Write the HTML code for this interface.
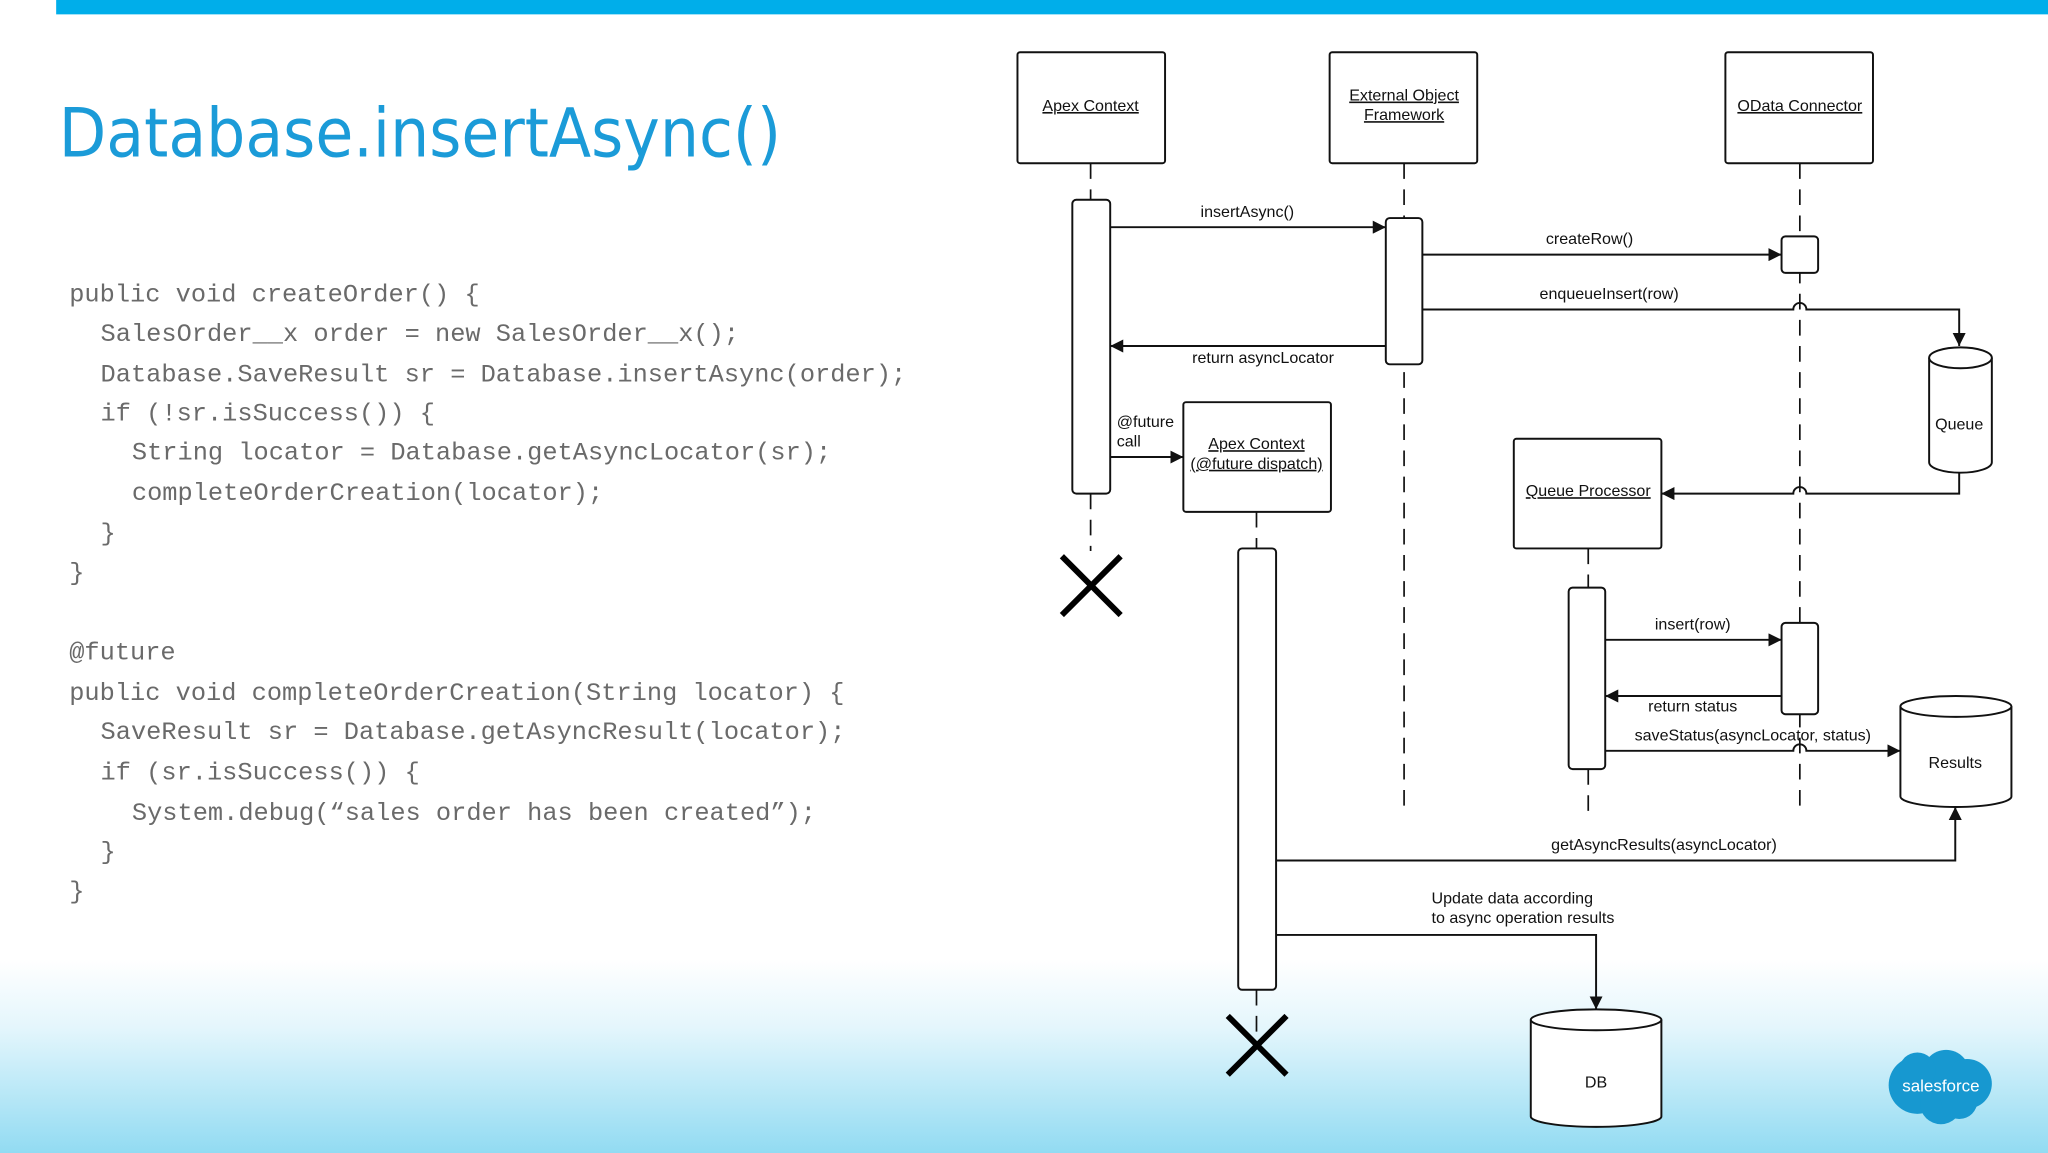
<!DOCTYPE html>
<html><head><meta charset="utf-8"><style>
html,body{margin:0;padding:0;background:#fff;}
svg{display:block;}
.t{font-family:"Liberation Sans",sans-serif;font-size:12.3px;fill:#111;}
.u{text-decoration:underline;}
.code{font-family:"Liberation Mono",monospace;font-size:19.4px;fill:#6a6a6a;}
</style></head><body>
<svg width="2048" height="1153" viewBox="0 0 1568 883" preserveAspectRatio="none" xmlns="http://www.w3.org/2000/svg">
<defs>
<linearGradient id="bg" x1="0" y1="0" x2="0" y2="1">
<stop offset="0" stop-color="#ffffff"/><stop offset="0.35" stop-color="#e4f6fc"/><stop offset="1" stop-color="#92dbf2"/>
</linearGradient>
<marker id="a" viewBox="0 0 10 10" refX="10" refY="5" markerWidth="10" markerHeight="10" markerUnits="userSpaceOnUse" orient="auto">
<path d="M0,0 L10,5 L0,10 z" fill="#111"/></marker>
</defs>
<rect x="0" y="0" width="1568" height="883" fill="#fff"/>
<rect x="0" y="735" width="1568" height="148" fill="url(#bg)"/>
<rect x="43" y="0" width="1525" height="11" fill="#00aeea"/>
<text x="45" y="120" font-family="'DejaVu Sans','Liberation Sans',sans-serif" font-size="52" fill="#1b9bd8" textLength="553" lengthAdjust="spacingAndGlyphs">Database.insertAsync()</text>
<g class="code">
<text x="53" y="231">public void createOrder() {</text>
<text x="77" y="261">SalesOrder__x order = new SalesOrder__x();</text>
<text x="77" y="292">Database.SaveResult sr = Database.insertAsync(order);</text>
<text x="77" y="322">if (!sr.isSuccess()) {</text>
<text x="101" y="352">String locator = Database.getAsyncLocator(sr);</text>
<text x="101" y="383">completeOrderCreation(locator);</text>
<text x="77" y="414">}</text>
<text x="53" y="444">}</text>
<text x="53" y="505">@future</text>
<text x="53" y="536">public void completeOrderCreation(String locator) {</text>
<text x="77" y="566">SaveResult sr = Database.getAsyncResult(locator);</text>
<text x="77" y="597">if (sr.isSuccess()) {</text>
<text x="101" y="628">System.debug(“sales order has been created”);</text>
<text x="77" y="658">}</text>
<text x="53" y="688">}</text>
</g>
<g fill="none" stroke="#111" stroke-width="1.3" stroke-dasharray="12,8">
<line x1="835" y1="125" x2="835" y2="153"/><line x1="835" y1="378" x2="835" y2="422"/>
<line x1="1075" y1="125" x2="1075" y2="625"/>
<line x1="1378" y1="125" x2="1378" y2="625"/>
<line x1="962" y1="392" x2="962" y2="420"/><line x1="962" y1="758" x2="962" y2="790"/>
<line x1="1216" y1="420" x2="1216" y2="450"/><line x1="1216" y1="589" x2="1216" y2="625"/>
</g>
<g fill="#fff" stroke="#111" stroke-width="1.5">
<rect x="779" y="40" width="113" height="85" rx="2"/>
<rect x="1018" y="40" width="113" height="85" rx="2"/>
<rect x="1321" y="40" width="113" height="85" rx="2"/>
<rect x="906" y="308" width="113" height="84" rx="2"/>
<rect x="1159" y="336" width="113" height="84" rx="2"/>
<rect x="821" y="153" width="29" height="225" rx="3"/>
<rect x="1061" y="167" width="28" height="112" rx="3"/>
<rect x="1364" y="181" width="28" height="28" rx="3"/>
<rect x="1364" y="477" width="28" height="70" rx="3"/>
<rect x="1201" y="450" width="28" height="139" rx="3"/>
<rect x="948" y="420" width="29" height="338" rx="3"/>
<!-- cylinders -->
<path d="M1477,274 L1477,354 A24,8 0 0 0 1525,354 L1525,274"/>
<ellipse cx="1501" cy="274" rx="24" ry="8"/>
<path d="M1455,541 L1455,610 A42.5,8 0 0 0 1540,610 L1540,541"/>
<ellipse cx="1497.5" cy="541" rx="42.5" ry="8"/>
<path d="M1172,781 L1172,855 A50,8 0 0 0 1272,855 L1272,781"/>
<ellipse cx="1222" cy="781" rx="50" ry="8"/>
</g>
<g fill="none" stroke="#111" stroke-width="1.5">
<line x1="850" y1="174" x2="1061" y2="174" marker-end="url(#a)"/>
<line x1="1089" y1="195" x2="1364" y2="195" marker-end="url(#a)"/>
<path d="M1089,237 L1373,237 A5,5 0 0 1 1383,237 L1500,237 L1500,265" marker-end="url(#a)"/>
<line x1="1061" y1="265" x2="850" y2="265" marker-end="url(#a)"/>
<path d="M1500,362 L1500,378 L1383,378 A5,5 0 0 0 1373,378 L1272,378" marker-end="url(#a)"/>
<line x1="850" y1="350" x2="906" y2="350" marker-end="url(#a)"/>
<line x1="1229" y1="490" x2="1364" y2="490" marker-end="url(#a)"/>
<line x1="1364" y1="533" x2="1229" y2="533" marker-end="url(#a)"/>
<path d="M1229,575 L1373,575 A5,5 0 0 1 1383,575 L1455,575" marker-end="url(#a)"/>
<path d="M977,659 L1497,659 L1497,618" marker-end="url(#a)"/>
<path d="M977,716 L1222,716 L1222,773" marker-end="url(#a)"/>
</g>
<g stroke="#000" stroke-width="4.5">
<line x1="813" y1="426" x2="858" y2="471"/><line x1="858" y1="426" x2="813" y2="471"/>
<line x1="940" y1="778" x2="985" y2="823"/><line x1="985" y1="778" x2="940" y2="823"/>
</g>
<g class="t" text-anchor="middle">
<text x="835" y="85" class="u">Apex Context</text>
<text x="1075" y="77" class="u">External Object</text>
<text x="1075" y="92" class="u">Framework</text>
<text x="1378" y="85" class="u">OData Connector</text>
<text x="962" y="344" class="u">Apex Context</text>
<text x="962" y="359" class="u">(@future dispatch)</text>
<text x="1216" y="380" class="u">Queue Processor</text>
<text x="955" y="166">insertAsync()</text>
<text x="1217" y="187">createRow()</text>
<text x="1232" y="229">enqueueInsert(row)</text>
<text x="967" y="278">return asyncLocator</text>
<text x="1500" y="329">Queue</text>
<text x="1296" y="482">insert(row)</text>
<text x="1296" y="545">return status</text>
<text x="1342" y="567">saveStatus(asyncLocator, status)</text>
<text x="1497" y="588">Results</text>
<text x="1274" y="651">getAsyncResults(asyncLocator)</text>
<text x="1222" y="833">DB</text>
</g>
<g class="t">
<text x="855" y="327">@future</text>
<text x="855" y="342">call</text>
<text x="1096" y="692">Update data according</text>
<text x="1096" y="707">to async operation results</text>
</g>
<g fill="#1798d0">
<circle cx="1468" cy="831" r="22"/><circle cx="1490" cy="822" r="18"/><circle cx="1506" cy="830" r="19"/>
<circle cx="1486" cy="845" r="16"/><circle cx="1468" cy="820" r="14"/><circle cx="1500" cy="843" r="14"/>
</g>
<text x="1486" y="836" text-anchor="middle" font-family="'Liberation Sans',sans-serif" font-size="13" fill="#fff">salesforce</text>
</svg>
</body></html>
